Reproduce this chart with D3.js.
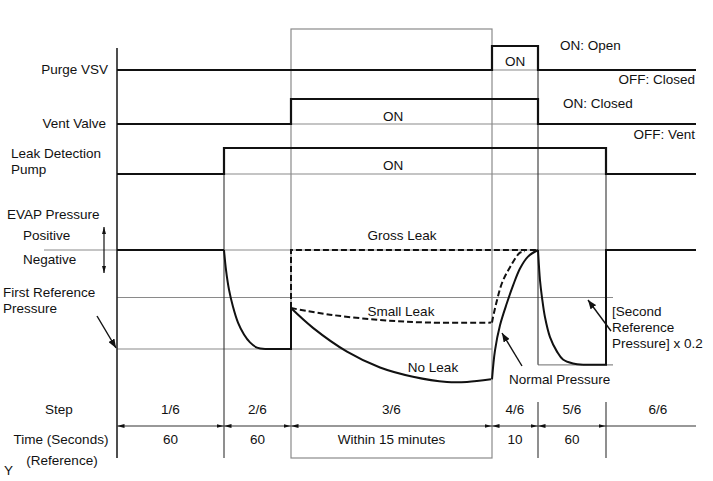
<!DOCTYPE html>
<html>
<head>
<meta charset="utf-8">
<script src="https://d3js.org/d3.v7.min.js"></script>
<style>
  body { margin: 0; background: #fff; }
  text { font-family: "Liberation Sans", Arial, sans-serif; font-size: 13.5px; fill: #111; }
</style>
</head>
<body>
<div id="chart"></div>
<script>
// step edges along the time axis (diagram units from the left axis)
const stepEdges = [0, 107, 174, 375, 421, 489, 579];
const stepLabels = ["1/6", "2/6", "3/6", "4/6", "5/6", "6/6"];
const timeLabels = ["60", "60", "Within 15 minutes", "10", "60", ""];

// on/off signals: [time, state]
const purgeVsv = [[0, 0], [375, 0], [375, 1], [421, 1], [421, 0], [579, 0]];
const ventValve = [[0, 0], [174, 0], [174, 1], [421, 1], [421, 0], [579, 0]];
const leakPump = [[0, 0], [107, 0], [107, 1], [489, 1], [489, 0], [579, 0]];

// EVAP pressure levels (0 = atmospheric)
const refLevels = { upper: -36, first: -75, second: -87 };

// EVAP pressure traces: [time, pressure]
const idle = [[0, 0], [107, 0]];
const pumpDown = [[107, 0], [109, -15], [112, -30], [116, -43], [121, -55], [127, -64], [133, -70], [140, -74], [148, -75]];
const hold = [[148, -75], [174, -75], [174, -44]];
const noLeak = [[174, -44], [196, -59], [230, -77], [263, -89], [296, -96], [330, -100], [350, -100], [374, -98]];
const normalRise = [[375, -98], [378, -76], [383, -57], [390, -40], [396, -27], [403, -14], [411, -5], [421, 0]];
const smallLeak = [[174, -44], [213, -49], [263, -53], [313, -55], [374, -55]];
const smallRise = [[375, -55], [376, -51], [380, -38], [385, -25], [393, -13], [403, -2], [408, -1]];
const grossLeak = [[174, -44], [174, 0], [421, 0]];
const ventDrop = [[421, 0], [423, -23], [425, -36], [428, -51], [433, -66], [440, -77], [446, -83], [456, -86], [466, -87]];
const recover = [[466, -87], [489, -87], [489, 0], [579, 0]];

const W = 713, H = 481;
const svg = d3.select("#chart").append("svg").attr("width", W).attr("height", H);

const x = d3.scaleLinear().domain([0, 579]).range([117, 696]);
const yP = d3.scaleLinear().domain([0, -100]).range([250, 382]);
const rows = [
  { data: purgeVsv, y: d3.scaleLinear().domain([0, 1]).range([70, 46]) },
  { data: ventValve, y: d3.scaleLinear().domain([0, 1]).range([124, 99]) },
  { data: leakPump, y: d3.scaleLinear().domain([0, 1]).range([174, 148]) }
];

const grey = "#8a8a8a", ink = "#111";

function hline(y, x1, x2, col, w) {
  svg.append("line").attr("x1", x1).attr("x2", x2).attr("y1", y).attr("y2", y)
    .attr("stroke", col).attr("stroke-width", w);
}
function vline(xp, y1, y2, col, w) {
  svg.append("line").attr("x1", xp).attr("x2", xp).attr("y1", y1).attr("y2", y2)
    .attr("stroke", col).attr("stroke-width", w);
}

// grey box around step 3/6
svg.append("rect").attr("x", x(stepEdges[2])).attr("y", 29)
  .attr("width", x(stepEdges[3]) - x(stepEdges[2])).attr("height", 429)
  .attr("fill", "none").attr("stroke", grey).attr("stroke-width", 1.2);

// grey reference lines
hline(yP(0), 44, x(496), grey, 1.2);
hline(yP(refLevels.upper), x(0), x(496), grey, 1.2);
hline(yP(refLevels.first), x(0), x(375), grey, 1.2);
hline(yP(refLevels.second), x(421), x(496), grey, 1.2);
// grey baselines under the ON pulses
hline(rows[0].y(0), x(375), x(421), grey, 1.2);
hline(rows[1].y(0), x(174), x(421), grey, 1.2);
hline(rows[2].y(0), x(107), x(489), grey, 1.2);

// thin vertical step lines
vline(x(107), rows[2].y(1), 458, "#333", 1.1);
vline(x(421), rows[0].y(1), yP(refLevels.second), "#333", 1.1);
vline(x(421), 402, 458, "#333", 1.1);
vline(x(489), rows[2].y(1), yP(refLevels.second), "#333", 1.1);
vline(x(489), 402, 458, "#333", 1.1);
// left axis
vline(x(0), 48, 458, "#222", 1.6);

// signal traces
const sigLine = d3.line();
rows.forEach(r => {
  svg.append("path")
    .attr("d", sigLine(r.data.map(d => [x(d[0]), r.y(d[1])])))
    .attr("fill", "none").attr("stroke", ink).attr("stroke-width", 2.2);
});

// pressure traces
const straight = d3.line().x(d => x(d[0])).y(d => yP(d[1]));
const smooth = d3.line().x(d => x(d[0])).y(d => yP(d[1])).curve(d3.curveCatmullRom.alpha(0.5));
function trace(pts, gen, dashed) {
  svg.append("path").attr("d", gen(pts)).attr("fill", "none")
    .attr("stroke", ink).attr("stroke-width", 2)
    .attr("stroke-dasharray", dashed ? "6,3" : null);
}
trace(grossLeak, straight, true);
trace(smallLeak, smooth, true);
trace(smallRise, smooth, true);
trace(idle, straight, false);
trace(pumpDown, smooth, false);
trace(hold, straight, false);
trace(noLeak, smooth, false);
trace(normalRise, smooth, false);
trace(ventDrop, smooth, false);
trace(recover, straight, false);

// arrow markers
const defs = svg.append("defs");
function marker(id, len, wid) {
  defs.append("marker").attr("id", id).attr("viewBox", "0 0 10 10")
    .attr("refX", 10).attr("refY", 5).attr("markerWidth", len).attr("markerHeight", wid)
    .attr("markerUnits", "userSpaceOnUse").attr("orient", "auto").attr("preserveAspectRatio", "none")
    .append("path").attr("d", "M0,0 L10,5 L0,10 Z").attr("fill", ink);
}
marker("ah", 9, 7);
marker("small", 7, 4);
function arrow(x1, y1, x2, y2, w, id) {
  svg.append("line").attr("x1", x1).attr("y1", y1).attr("x2", x2).attr("y2", y2)
    .attr("stroke", ink).attr("stroke-width", w).attr("marker-end", "url(#" + (id || "ah") + ")");
}

// labels
function label(t, xp, yp, anchor) {
  svg.append("text").attr("x", xp).attr("y", yp).attr("text-anchor", anchor || "start").text(t);
}
label("Purge VSV", 108, 74, "end");
label("Vent Valve", 106, 128, "end");
label("Leak Detection", 11, 158);
label("Pump", 11, 174);
label("ON: Open", 560, 50);
label("OFF: Closed", 695, 84, "end");
label("ON", (x(375) + x(421)) / 2, 66, "middle");
label("ON: Closed", 563, 108);
label("ON", 393, 121, "middle");
label("OFF: Vent", 695, 139, "end");
label("ON", 393, 170, "middle");

label("EVAP Pressure", 7, 219);
label("Positive", 23, 240);
label("Negative", 23, 264);
arrow(104, 250, 104, 227, 1.2, "small");
arrow(104, 250, 104, 273, 1.2, "small");
label("First Reference", 3, 297);
label("Pressure", 3, 313);
arrow(97, 316, 116, 348, 1.4);

label("Gross Leak", 402, 240, "middle");
label("Small Leak", 401, 316, "middle");
label("No Leak", 433, 372, "middle");
label("Normal Pressure", 509, 384);
arrow(522, 366, 502, 333, 1.4);
label("[Second", 612, 316);
label("Reference", 612, 332);
label("Pressure] x 0.2", 612, 348);
arrow(611, 331, 588, 300, 1.4);

// step / time row
label("Step", 59, 414, "middle");
label("Time (Seconds)", 61, 444, "middle");
label("(Reference)", 62, 465, "middle");
label("Y", 4, 475);
hline(426, x(0), x(579), "#333", 1.1);
stepLabels.forEach((s, i) => {
  const a = stepEdges[i], b = stepEdges[i + 1];
  const cx = i === 5 ? (x(a) + 710) / 2 : (x(a) + x(b)) / 2;
  label(s, cx, 414, "middle");
  if (timeLabels[i]) label(timeLabels[i], cx, 444, "middle");
  if (i < 5) {
    const m = (x(a) + x(b)) / 2;
    arrow(m, 426, x(a) + 0.5, 426, 0.01, "small");
    arrow(m, 426, x(b) - 0.5, 426, 0.01, "small");
  }
});
</script>
</body>
</html>
